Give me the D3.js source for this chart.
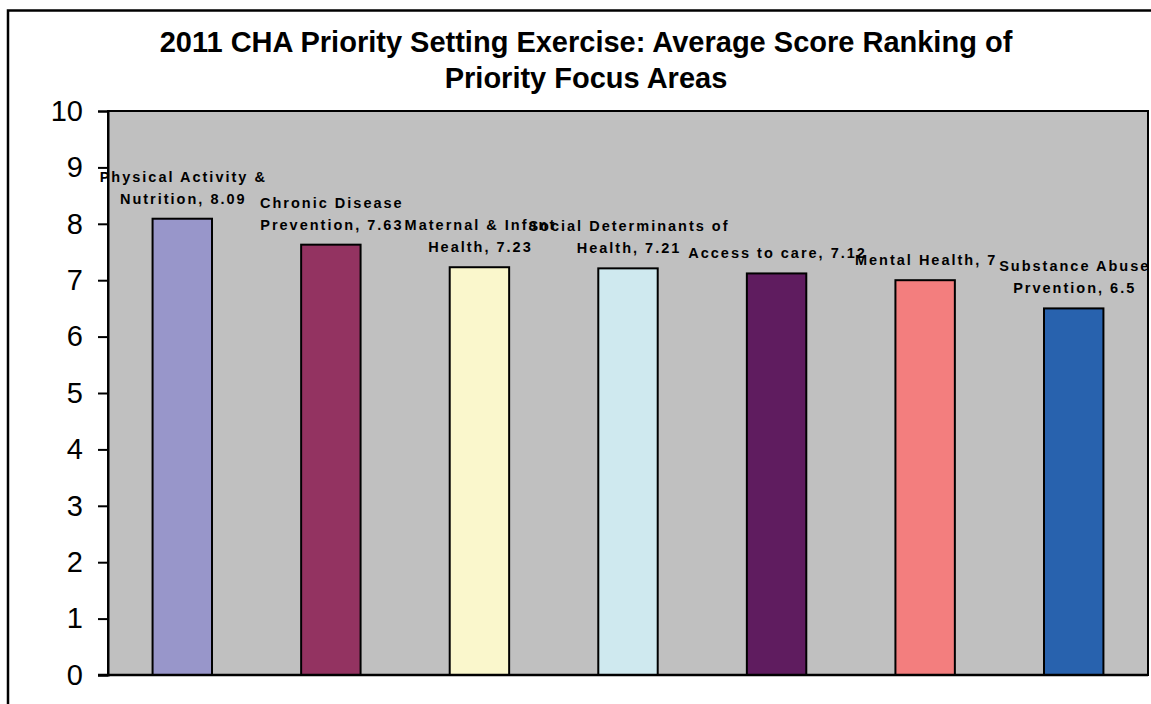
<!DOCTYPE html>
<html>
<head>
<meta charset="utf-8">
<script src="https://cdnjs.cloudflare.com/ajax/libs/d3/7.8.5/d3.min.js"></script>
<style>
  body { margin: 0; background: #fff; }
  text { font-family: "Liberation Sans", Arial, sans-serif; }
</style>
</head>
<body>
<div id="chart"></div>
<script>
// data
const title_lines = ["2011 CHA Priority Setting Exercise: Average Score Ranking of", "Priority Focus Areas"]
const categories = ["Physical Activity & Nutrition", "Chronic Disease Prevention", "Maternal & Infant Health",
  "Social Determinants of Health", "Access to care", "Mental Health", "Substance Abuse Prvention"]
const scores = [8.09, 7.63, 7.23, 7.21, 7.12, 7, 6.5]
const label_lines = [
  ["Physical Activity &", "Nutrition, 8.09"],
  ["Chronic Disease", "Prevention, 7.63"],
  ["Maternal & Infant", "Health, 7.23"],
  ["Social Determinants of", "Health, 7.21"],
  ["Access to care, 7.12"],
  ["Mental Health, 7"],
  ["Substance Abuse", "Prvention, 6.5"]
]
const bar_colours = ["#9896CA", "#933361", "#FAF7CC", "#CFE9EF", "#5F1C5F", "#F37E7E", "#2862AE"]
const y_ticks = [0, 1, 2, 3, 4, 5, 6, 7, 8, 9, 10]

// dimensions
var width = 1151, height = 704
var plot = {left: 108, right: 1148, top: 111, bottom: 675}

var svg = d3.select("#chart")
  .append("svg")
    .attr("width", width)
    .attr("height", height)

// outer chart frame (runs off the right and bottom of the picture)
svg.append("rect")
  .attr("x", 8).attr("y", 10.5)
  .attr("width", 1300).attr("height", 900)
  .attr("fill", "none")
  .attr("stroke", "#000")
  .attr("stroke-width", 2.5)

// title
svg.selectAll(".title")
  .data(title_lines)
  .enter()
  .append("text")
    .attr("class", "title")
    .attr("x", 586)
    .attr("y", function(d, i) { return 52 + i * 36 })
    .attr("text-anchor", "middle")
    .style("font-size", "29px")
    .style("font-weight", "bold")
    .text(function(d) { return d })

var x = d3.scaleBand()
  .domain(categories)
  .range([plot.left, plot.right])
  .paddingInner(0.6)
  .paddingOuter(0.3)

var y = d3.scaleLinear().domain([0, 10]).range([plot.bottom, plot.top])

// plot area
svg.append("rect")
  .attr("x", plot.left).attr("y", plot.top)
  .attr("width", plot.right - plot.left)
  .attr("height", plot.bottom - plot.top)
  .attr("fill", "#C0C0C0")
  .attr("stroke", "#000")
  .attr("stroke-width", 2)

// y axis
var yAxis = svg.append("g")
  .attr("transform", "translate(" + plot.left + ",0)")
  .call(d3.axisLeft(y).tickValues(y_ticks).tickSize(10).tickPadding(15).tickFormat(d3.format("d")))
yAxis.select(".domain").attr("stroke-width", 2)
yAxis.selectAll(".tick line").attr("stroke-width", 2)
yAxis.selectAll(".tick text")
  .style("font-size", "29px")
  .style("font-family", "'Liberation Sans', Arial, sans-serif")
  .attr("fill", "#000")

// bars
svg.selectAll(".bar")
  .data(scores)
  .enter()
  .append("rect")
    .attr("class", "bar")
    .attr("x", function(d, i) { return x(categories[i]) })
    .attr("y", function(d) { return y(d) })
    .attr("width", x.bandwidth())
    .attr("height", function(d) { return y(0) - y(d) })
    .attr("fill", function(d, i) { return bar_colours[i] })
    .attr("stroke", "#000")
    .attr("stroke-width", 2)

// bottom axis line on top of bars
svg.append("line")
  .attr("x1", plot.left - 10).attr("x2", plot.right)
  .attr("y1", y(0)).attr("y2", y(0))
  .attr("stroke", "#000")
  .attr("stroke-width", 2.5)

// data labels
var labels = svg.selectAll(".label")
  .data(scores)
  .enter()
  .append("text")
    .attr("class", "label")
    .attr("text-anchor", "middle")
    .style("font-size", "14.5px")
    .style("font-weight", "bold")
    .style("letter-spacing", "2px")

labels.selectAll("tspan")
  .data(function(d, i) {
    var lines = label_lines[i]
    return lines.map(function(t, j) {
      return {text: t, cx: x(categories[i]) + x.bandwidth() / 2 + 1, cy: y(d) - 15 - (lines.length - 1 - j) * 22}
    })
  })
  .enter()
  .append("tspan")
    .attr("x", function(d) { return d.cx })
    .attr("y", function(d) { return d.cy })
    .text(function(d) { return d.text })
</script>
</body>
</html>
